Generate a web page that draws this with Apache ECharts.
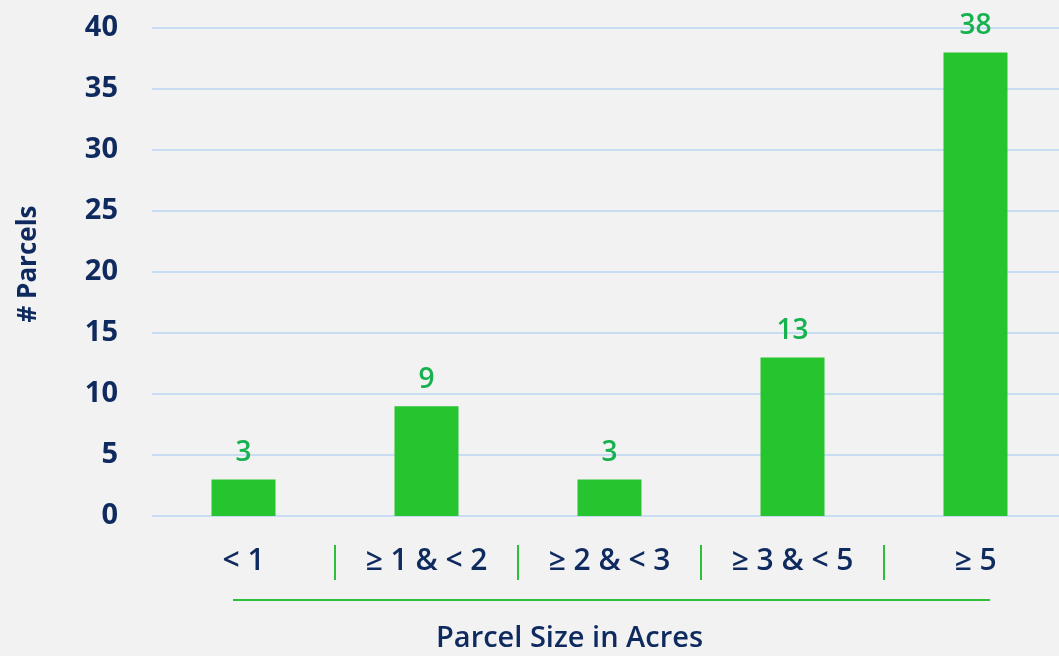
<!DOCTYPE html>
<html>
<head>
<meta charset="utf-8">
<script src="https://cdn.jsdelivr.net/npm/echarts@6/dist/echarts.min.js"></script>
<style>
html,body{margin:0;padding:0;background:#F2F2F2;}
#chart{width:1059px;height:656px;}
</style>
</head>
<body>
<div id="chart"></div>
<script>
const categories = ['< 1', '≥ 1 & < 2', '≥ 2 & < 3', '≥ 3 & < 5', '≥ 5'];
const parcels = [3, 9, 3, 13, 38];
const yTicks = { min: 0, max: 40, interval: 5 };
const xTitle = 'Parcel Size in Acres';
const yTitle = '# Parcels';

const navy = '#0F2A5F';
const font = '"Open Sans", "Noto Sans", sans-serif';
const chart = echarts.init(document.getElementById('chart'));
chart.setOption({
  backgroundColor: '#F2F2F2',
  animation: false,
  grid: { left: 152, width: 915, top: 28, bottom: 140, containLabel: false, outerBoundsMode: 'none' },
  xAxis: [{
    type: 'category',
    data: categories,
    axisLine: { show: false },
    axisTick: { show: false },
    axisLabel: { color: navy, fontSize: 30, fontWeight: 600, fontFamily: font, margin: 30 },
    name: xTitle,
    nameLocation: 'middle',
    nameGap: 108,
    nameTextStyle: { color: navy, fontSize: 29, fontWeight: 600, fontFamily: font, padding: [0, 80, 0, 0] }
  }, {
    type: 'category',
    data: categories,
    position: 'bottom',
    offset: 29,
    axisLine: { show: false },
    axisLabel: { show: false },
    axisTick: { show: true, length: 35, interval: function (i) { return i > 0; }, lineStyle: { color: '#2DBF3A', width: 2 } }
  }],
  yAxis: {
    type: 'value',
    min: yTicks.min, max: yTicks.max, interval: yTicks.interval,
    axisLine: { show: false },
    axisTick: { show: false },
    axisLabel: { color: navy, fontSize: 29, fontWeight: 'bold', fontFamily: font, margin: 34 },
    splitLine: { lineStyle: { color: '#C8DCF3', width: 2 } },
    name: yTitle,
    nameLocation: 'middle',
    nameGap: 110,
    nameRotate: 90,
    nameTextStyle: { color: navy, fontSize: 26, fontWeight: 'bold', fontFamily: font, padding: [0, 0, 0, 16] }
  },
  graphic: [{
    type: 'line',
    shape: { x1: 233, y1: 600, x2: 990, y2: 600 },
    style: { stroke: '#2DBF3A', lineWidth: 2 }
  }],
  series: [{
    type: 'bar',
    data: parcels,
    barWidth: 64,
    itemStyle: { color: '#26C42E' },
    label: {
      show: true, position: 'top', distance: 12,
      color: '#15B24F', fontSize: 28, fontWeight: 600, fontFamily: font
    }
  }]
});
</script>
</body>
</html>
